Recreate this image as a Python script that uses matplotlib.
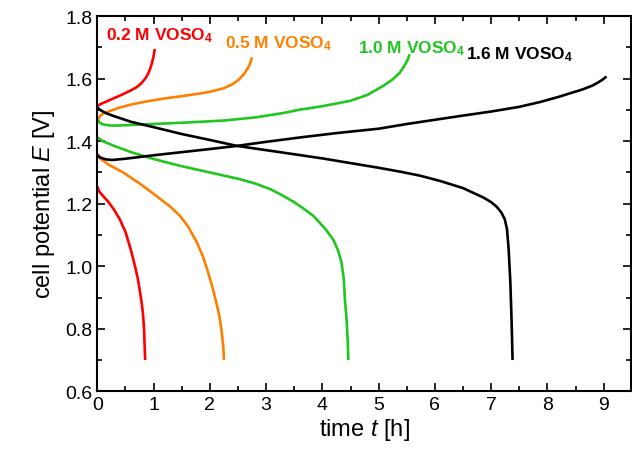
import matplotlib
matplotlib.use("Agg")
import matplotlib.pyplot as plt
from matplotlib.ticker import MultipleLocator

plt.rcParams['font.family'] = ['Liberation Sans', 'DejaVu Sans']
plt.rcParams['mathtext.fontset'] = 'custom'
plt.rcParams['mathtext.rm'] = 'Liberation Sans'
plt.rcParams['mathtext.it'] = 'Liberation Sans:italic'
plt.rcParams['mathtext.bf'] = 'Liberation Sans:bold'

# ---- data (time in h, potential in V) ----
labels = ['0.2 M VOSO', '0.5 M VOSO', '1.0 M VOSO', '1.6 M VOSO']
colors = ['#ff0000', '#ff8000', '#1fc71f', '#000000']

t_charge_02 = [0, 0.05, 0.15, 0.3, 0.45, 0.6, 0.7, 0.78, 0.85, 0.9, 0.94, 0.97, 1.0, 1.02]
E_charge_02 = [1.513, 1.518, 1.526, 1.538, 1.55, 1.563, 1.573, 1.585, 1.60, 1.615, 1.632, 1.65, 1.672, 1.695]
t_dis_02 = [0, 0.03, 0.1, 0.2, 0.3, 0.4, 0.5, 0.6, 0.67, 0.72, 0.76, 0.79, 0.81, 0.83, 0.84, 0.85]
E_dis_02 = [1.255, 1.24, 1.225, 1.205, 1.18, 1.15, 1.11, 1.05, 1.0, 0.96, 0.916, 0.88, 0.85, 0.80, 0.75, 0.70]

t_charge_05 = [0, 0.02, 0.06, 0.12, 0.23, 0.4, 0.64, 0.9, 1.2, 1.5, 1.8, 2.0, 2.24, 2.4, 2.52, 2.62, 2.7, 2.75]
E_charge_05 = [1.46, 1.472, 1.483, 1.49, 1.497, 1.508, 1.519, 1.528, 1.537, 1.544, 1.552, 1.558, 1.569, 1.582, 1.598, 1.618, 1.642, 1.668]
t_dis_05 = [0, 0.05, 0.2, 0.46, 0.75, 1.05, 1.3, 1.47, 1.62, 1.77, 1.88, 1.97, 2.05, 2.12, 2.17, 2.21, 2.24, 2.25]
E_dis_05 = [1.36, 1.345, 1.325, 1.30, 1.265, 1.225, 1.19, 1.161, 1.125, 1.076, 1.03, 0.98, 0.93, 0.88, 0.84, 0.79, 0.74, 0.70]

t_charge_10 = [0, 0.03, 0.08, 0.15, 0.25, 0.34, 0.6, 1.0, 1.6, 2.24, 2.8, 3.3, 3.6, 4.0, 4.49, 4.8, 5.08, 5.25, 5.38, 5.47, 5.52, 5.55]
E_charge_10 = [1.47, 1.462, 1.455, 1.452, 1.45, 1.45, 1.452, 1.455, 1.46, 1.466, 1.476, 1.49, 1.501, 1.512, 1.529, 1.548, 1.577, 1.598, 1.62, 1.645, 1.662, 1.678]
t_dis_10 = [0, 0.1, 0.3, 0.6, 1.0, 1.5, 2.0, 2.5, 2.8, 3.07, 3.245, 3.5, 3.7, 3.84, 4.05, 4.19, 4.28, 4.34, 4.38, 4.40, 4.43, 4.45, 4.46]
E_dis_10 = [1.412, 1.40, 1.385, 1.365, 1.343, 1.32, 1.30, 1.28, 1.265, 1.247, 1.231, 1.205, 1.18, 1.161, 1.12, 1.086, 1.05, 1.012, 0.96, 0.894, 0.83, 0.76, 0.70]

t_charge_16 = [0, 0.05, 0.15, 0.26, 0.5, 1.0, 1.5, 2.0, 2.48, 3.0, 3.6, 4.3, 5.0, 5.5, 6.09, 6.5, 7.0, 7.5, 7.86, 8.2, 8.45, 8.63, 8.8, 8.9, 8.98, 9.05]
E_charge_16 = [1.355, 1.348, 1.342, 1.34, 1.344, 1.355, 1.365, 1.375, 1.385, 1.398, 1.412, 1.427, 1.44, 1.455, 1.471, 1.482, 1.495, 1.51, 1.525, 1.542, 1.556, 1.566, 1.578, 1.588, 1.597, 1.607]
t_dis_16 = [0, 0.05, 0.15, 0.3, 0.6, 1.0, 1.5, 2.0, 2.48, 3.245, 4.0, 4.5, 5.0, 5.4, 5.73, 6.09, 6.5, 6.86, 7.0, 7.1, 7.18, 7.24, 7.28, 7.31, 7.34, 7.36, 7.37, 7.38]
E_dis_16 = [1.508, 1.50, 1.49, 1.48, 1.462, 1.445, 1.423, 1.404, 1.385, 1.365, 1.345, 1.33, 1.315, 1.302, 1.29, 1.273, 1.25, 1.22, 1.205, 1.19, 1.172, 1.151, 1.12, 1.055, 0.95, 0.84, 0.77, 0.70]

charges = [(t_charge_02, E_charge_02), (t_charge_05, E_charge_05),
           (t_charge_10, E_charge_10), (t_charge_16, E_charge_16)]
discharges = [(t_dis_02, E_dis_02), (t_dis_05, E_dis_05),
              (t_dis_10, E_dis_10), (t_dis_16, E_dis_16)]

label_t = [0.155, 2.27, 4.63, 6.55]
label_E = [1.727, 1.700, 1.684, 1.665]

fig = plt.figure(figsize=(6.32, 4.64), dpi=100)
ax = fig.add_axes([0.154, 0.1545, 0.844, 0.8085])

for (tc, Ec), (td, Ed), c in zip(charges, discharges, colors):
    ax.plot(tc, Ec, color=c, lw=1.9, solid_capstyle='butt', solid_joinstyle='round')
    ax.plot(td, Ed, color=c, lw=1.9, solid_capstyle='butt', solid_joinstyle='round')

for lab, c, tx, ty in zip(labels, colors, label_t, label_E):
    ax.text(tx, ty, r'$\mathbf{' + lab.replace(' ', r'\ ') + r'_4}$', color=c,
            fontsize=12.5, ha='left', va='baseline')

ax.set_xlim(0, 9.48)
ax.set_ylim(0.6, 1.8)
ax.xaxis.set_major_locator(MultipleLocator(1))
ax.xaxis.set_minor_locator(MultipleLocator(0.5))
ax.yaxis.set_major_locator(MultipleLocator(0.2))
ax.yaxis.set_minor_locator(MultipleLocator(0.1))
ax.set_yticks([0.6, 0.8, 1.0, 1.2, 1.4, 1.6, 1.8])
ax.set_yticklabels(['0.6', '0.8', '1.0', '1.2', '1.4', '1.6', '1.8'])
ax.tick_params(which='both', direction='in', top=True, right=True, labelsize=14, width=1.2)
ax.tick_params(which='major', length=6)
ax.tick_params(which='minor', length=3.5)
for s in ax.spines.values():
    s.set_linewidth(1.5)

ax.set_xlabel(r'time $\mathit{t}$ [h]', fontsize=17, labelpad=2)
ax.set_ylabel(r'cell potential $\mathit{E}$ [V]', fontsize=17, labelpad=6)

fig.savefig('out.png', dpi=100)
